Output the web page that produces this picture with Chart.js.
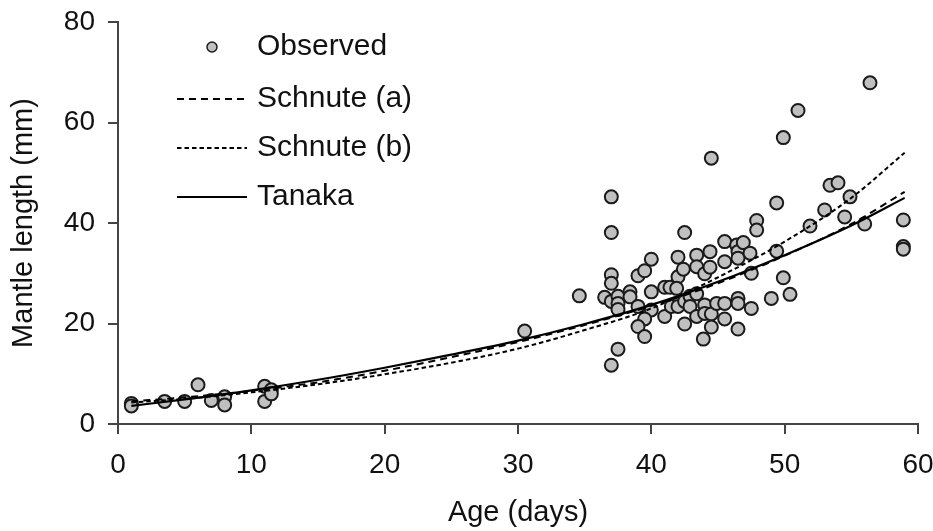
<!DOCTYPE html>
<html>
<head>
<meta charset="utf-8">
<script src="https://cdn.jsdelivr.net/npm/chart.js@4.4.1/dist/chart.umd.min.js"></script>
<style>
  html, body { margin: 0; padding: 0; background: #ffffff; }
  #wrap { width: 933px; height: 531px; position: relative; }
</style>
</head>
<body>
<div id="wrap"><canvas id="c" width="933" height="531"></canvas></div>
<script>
// ---- Data ----
const obsAge = [
  1, 1, 3.5, 5, 6, 7, 8, 8, 11, 11, 11.5, 11.5,
  30.5, 34.6,
  37, 37, 42.5, 37, 37, 36.5, 37, 37.5, 37.5, 37.5, 37.5, 37,
  38.4, 38.4, 39, 39.5, 40, 39, 40, 40, 39.5, 39, 39.5,
  41, 41.4, 41, 42, 42, 42.4, 41.9, 41.5, 42, 42.5, 42.9, 43.4,
  42.5, 42.9, 43.4, 44, 44, 43.4, 43.4, 44, 44.4, 44.4, 44.5, 44.5, 43.9, 44.9,
  45.5, 45.5, 45.5, 45.5, 46.4, 46.5, 46.5, 46.9, 47.4, 46.5, 46.5, 46.5,
  47.5, 47.5, 47.9, 47.9,
  56.4, 51, 49.9, 53.4, 54, 49.4, 54.9, 53, 54.5, 51.9, 56, 58.9, 58.9, 58.9,
  49.4, 49.9, 50.4, 49, 44.5
];
const obsLength = [
  4.1, 3.6, 4.5, 4.5, 7.8, 4.7, 5.4, 3.8, 7.5, 4.5, 6.8, 6.0,
  18.5, 25.5,
  45.2, 38.1, 38.1, 29.7, 28.0, 25.2, 24.4, 25.4, 24.0, 22.8, 14.9, 11.7,
  26.3, 25.3, 29.5, 30.5, 32.8, 23.4, 26.3, 22.7, 20.9, 19.4, 17.4,
  27.2, 27.2, 21.4, 33.2, 29.3, 30.8, 27.0, 23.4, 23.4, 24.4, 25.4, 25.9,
  19.9, 23.4, 21.4, 23.7, 22.0, 33.6, 31.3, 29.9, 34.3, 31.2, 21.9, 19.3, 16.9, 24.0,
  36.3, 32.3, 24.0, 20.9, 35.6, 34.3, 33.0, 36.1, 34.0, 25.0, 24.0, 18.9,
  30.0, 23.0, 40.5, 38.6,
  67.9, 62.4, 57.0, 47.5, 48.0, 44.0, 45.2, 42.6, 41.2, 39.4, 39.8, 40.6, 35.3, 34.8,
  34.4, 29.1, 25.8, 25.0, 52.9
];

const curveAge  = [1, 5, 10, 15, 20, 25, 30, 35, 40, 45, 50, 55, 59];
const schnuteA  = [4.5, 5.3, 6.6, 8.3, 10.6, 13.3, 16.3, 19.7, 23.5, 28.0, 33.5, 39.8, 46.2];
const schnuteB  = [4.3, 5.0, 6.3, 7.9, 9.9, 12.2, 15.0, 18.7, 23.0, 29.2, 36.3, 45.0, 54.0];
const tanaka    = [3.6, 4.9, 6.7, 8.8, 11.2, 13.8, 16.6, 19.9, 23.7, 28.3, 33.6, 39.5, 45.0];

const seriesNames = ['Observed', 'Schnute (a)', 'Schnute (b)', 'Tanaka'];
const xTicks = [0, 10, 20, 30, 40, 50, 60];
const yTicks = [0, 20, 40, 60, 80];
const xTitle = 'Age (days)';
const yTitle = 'Mantle length (mm)';

// ---- Build datasets ----
const pts = (xs, ys) => xs.map((x, i) => ({ x: x, y: ys[i] }));
const FONT = "'Liberation Sans', Arial, sans-serif";
const INK = '#111111';

const lineBase = {
  type: 'line', showLine: true, pointRadius: 0, pointHoverRadius: 0,
  borderColor: '#000000', borderWidth: 2, fill: false,
  cubicInterpolationMode: 'monotone', order: 1
};

const data = {
  datasets: [
    { type: 'scatter', label: seriesNames[0], data: pts(obsAge, obsLength),
      backgroundColor: '#c0c0c0', borderColor: '#1a1a1a', borderWidth: 2,
      pointRadius: 6.5, pointHoverRadius: 6.5, order: 2 },
    Object.assign({}, lineBase, { label: seriesNames[1], data: pts(curveAge, schnuteA), borderDash: [7, 5] }),
    Object.assign({}, lineBase, { label: seriesNames[2], data: pts(curveAge, schnuteB), borderDash: [4.5, 3] }),
    Object.assign({}, lineBase, { label: seriesNames[3], data: pts(curveAge, tanaka), borderWidth: 2.2 })
  ]
};

// Custom in-plot legend drawn from dataset styles
const legendPlugin = {
  id: 'inLegend',
  afterDatasetsDraw(chart) {
    const ctx = chart.ctx;
    const rows = [47, 99, 148, 197];
    const x0 = 177, x1 = 247, tx = 257;
    ctx.save();
    chart.data.datasets.forEach((ds, i) => {
      const y = rows[i];
      if (ds.type === 'scatter') {
        ctx.beginPath();
        ctx.arc(212, y, 5, 0, Math.PI * 2);
        ctx.fillStyle = ds.backgroundColor;
        ctx.fill();
        ctx.lineWidth = 1.5;
        ctx.strokeStyle = ds.borderColor;
        ctx.stroke();
      } else {
        ctx.beginPath();
        ctx.setLineDash(ds.borderDash || []);
        ctx.lineWidth = ds.borderWidth;
        ctx.strokeStyle = ds.borderColor;
        ctx.moveTo(x0, y);
        ctx.lineTo(x1, y);
        ctx.stroke();
        ctx.setLineDash([]);
      }
      ctx.fillStyle = INK;
      ctx.font = '30px ' + FONT;
      ctx.textAlign = 'left';
      ctx.textBaseline = 'middle';
      ctx.fillText(ds.label, tx, y);
    });
    ctx.restore();
  }
};

new Chart(document.getElementById('c'), {
  type: 'scatter',
  data: data,
  plugins: [legendPlugin],
  options: {
    responsive: false,
    animation: false,
    layout: { padding: { left: 0, right: 15, top: 22, bottom: 0 } },
    plugins: { legend: { display: false }, tooltip: { enabled: false } },
    scales: {
      x: {
        type: 'linear', min: 0, max: 60,
        afterBuildTicks: (s) => { s.ticks = xTicks.map(v => ({ value: v })); },
        afterFit: (s) => { s.height = 107; s.paddingLeft = 0; s.paddingRight = 0; },
        border: { display: true, color: '#444444', width: 2 },
        grid: { display: true, drawOnChartArea: false, drawTicks: true, tickLength: 10, color: '#444444', lineWidth: 2 },
        ticks: { color: INK, font: { family: FONT, size: 28 }, padding: 14, maxRotation: 0 },
        title: { display: true, text: xTitle, color: INK, font: { family: FONT, size: 29 }, padding: { top: 0, bottom: 1 } }
      },
      y: {
        type: 'linear', min: 0, max: 80,
        afterBuildTicks: (s) => { s.ticks = yTicks.map(v => ({ value: v })); },
        afterFit: (s) => { s.width = 118; s.paddingTop = 0; s.paddingBottom = 0; },
        border: { display: true, color: '#444444', width: 2 },
        grid: { display: true, drawOnChartArea: false, drawTicks: true, tickLength: 10, color: '#444444', lineWidth: 2 },
        ticks: { color: INK, font: { family: FONT, size: 28 }, padding: 13 },
        title: { display: true, text: yTitle, color: INK, font: { family: FONT, size: 29 }, padding: { top: 7, bottom: 0 } }
      }
    }
  }
});
</script>
</body>
</html>
